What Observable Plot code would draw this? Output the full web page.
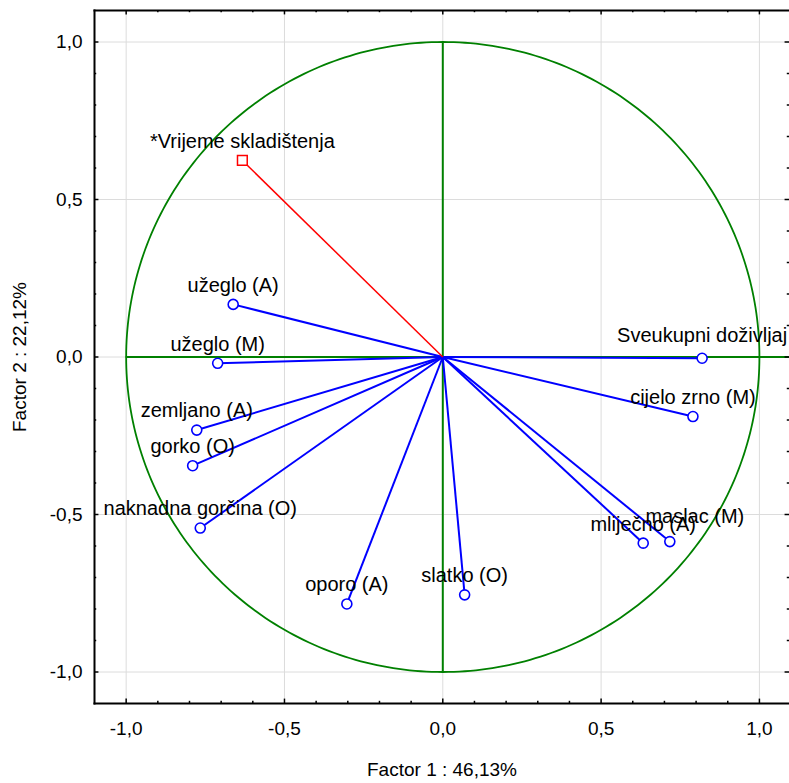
<!DOCTYPE html>
<html><head><meta charset="utf-8">
<script src="https://cdn.jsdelivr.net/npm/d3@7"></script>
<script src="https://cdn.jsdelivr.net/npm/@observablehq/plot@0.6"></script>
<style>html,body{margin:0;padding:0;background:#fff;overflow:hidden}</style>
</head><body><div id="chart"></div>
<script>
// ---- data ----
const names = ["užeglo (A)","užeglo (M)","zemljano (A)","gorko (O)","naknadna gorčina (O)","oporo (A)","slatko (O)","mliječno (A)","maslac (M)","cijelo zrno (M)","Sveukupni doživljaj"];
const factor1 = [-0.662,-0.711,-0.777,-0.790,-0.766,-0.303,0.069,0.633,0.717,0.790,0.819];
const factor2 = [0.167,-0.020,-0.232,-0.345,-0.543,-0.784,-0.755,-0.591,-0.586,-0.189,-0.004];
const suppNames = ["*Vrijeme skladištenja"];
const suppFactor1 = [-0.633];
const suppFactor2 = [0.624];
const tickValues = [-1, -0.5, 0, 0.5, 1];
const tickLabels = ["-1,0","-0,5","0,0","0,5","1,0"];
const xTitle = "Factor 1 : 46,13%";
const yTitle = "Factor 2 : 22,12%";

// ---- build tables ----
const active = names.map((n,i) => ({name:n, x:factor1[i], y:factor2[i]}));
const supp = suppNames.map((n,i) => ({name:n, x:suppFactor1[i], y:suppFactor2[i]}));
const nudge = {"maslac (M)": [25,-6], "Sveukupni doživljaj": [0,-4]};
const labelled = active.concat(supp).map(d => ({...d, dx:(nudge[d.name]||[0,0])[0], dy:(nudge[d.name]||[0,0])[1]}));
const circle = d3.range(0, 361).map(a => ({x: Math.cos(a*Math.PI/180), y: Math.sin(a*Math.PI/180)}));
const fmt = v => tickLabels[tickValues.indexOf(v)];
const minor = d3.range(-10, 11).map(i => i/10);
const XL = -1.1, XR = 1.095, YB = -1.1, YT = 1.1;
const font = "'Liberation Sans', Arial, Helvetica, sans-serif";
const isMajor = d => Math.abs(d*2 - Math.round(d*2)) < 1e-9;

const plot = Plot.plot({
  width: 789, height: 783,
  marginLeft: 94, marginRight: 0, marginTop: 10, marginBottom: 80,
  x: {domain: [XL, XR]},
  y: {domain: [YB, YT]},
  style: {fontFamily: font, fontSize: "19px", background: "white", color: "black"},
  marks: [
    Plot.ruleX(tickValues, {stroke: "#dcdcdc", strokeWidth: 1}),
    Plot.ruleY(tickValues, {stroke: "#dcdcdc", strokeWidth: 1}),
    Plot.line(circle, {x: "x", y: "y", stroke: "#008000", strokeWidth: 1.8}),
    Plot.ruleY([0], {x1: -1, x2: XR, stroke: "#008000", strokeWidth: 2}),
    Plot.ruleX([0], {y1: -1, y2: 1, stroke: "#008000", strokeWidth: 2}),
    Plot.link(active, {x1: 0, y1: 0, x2: "x", y2: "y", stroke: "#0000ff", strokeWidth: 2}),
    Plot.link(supp, {x1: 0, y1: 0, x2: "x", y2: "y", stroke: "#ff0000", strokeWidth: 1.5}),
    Plot.dot(active, {x: "x", y: "y", r: 5, stroke: "#0000ff", fill: "white", strokeWidth: 1.6}),
    Plot.dot(supp, {x: "x", y: "y", r: 5.5, symbol: "square", stroke: "#ff0000", fill: "white", strokeWidth: 1.5}),
    Plot.text(labelled, {x: "x", y: "y", text: "name", fontSize: 20, fill: "black", textAnchor: "middle", dy: -19}),
    Plot.frame({anchor: "top", stroke: "black", strokeWidth: 2}),
    Plot.frame({anchor: "left", stroke: "black", strokeWidth: 2}),
    Plot.frame({anchor: "bottom", stroke: "black", strokeWidth: 2}),
    // inward tick marks on all four sides
    Plot.ruleX(minor, {y1: YB, y2: d => YB + (isMajor(d) ? 0.014 : 0.007), stroke: "black", strokeWidth: 1.5}),
    Plot.ruleX(minor, {y1: YT, y2: d => YT - (isMajor(d) ? 0.014 : 0.007), stroke: "black", strokeWidth: 1.5}),
    Plot.ruleY(minor, {x1: XL, x2: d => XL + (isMajor(d) ? 0.014 : 0.007), stroke: "black", strokeWidth: 1.5}),
    Plot.ruleY(minor, {x1: XR, x2: d => XR - (isMajor(d) ? 0.014 : 0.007), stroke: "black", strokeWidth: 1.5}),
    Plot.axisX(tickValues, {tickSize: 0, tickPadding: 18, tickFormat: fmt, fontSize: 19,
      label: xTitle, labelAnchor: "center", labelArrow: "none", labelOffset: 72}),
    Plot.axisY(tickValues, {tickSize: 0, tickPadding: 12, tickFormat: fmt, fontSize: 19,
      label: yTitle, labelAnchor: "center", labelArrow: "none", labelOffset: 82})
  ]
});
// apply per-label nudges (label collisions in the original layout)
d3.select(plot).selectAll("g[aria-label='text'] text").each(function(_, k) {
  const d = labelled[k];
  if (d && (d.dx || d.dy)) {
    const t = this.getAttribute("transform") || "";
    this.setAttribute("transform", t + ` translate(${d.dx},${d.dy})`);
  }
});
document.getElementById("chart").append(plot);
</script>
</body></html>
